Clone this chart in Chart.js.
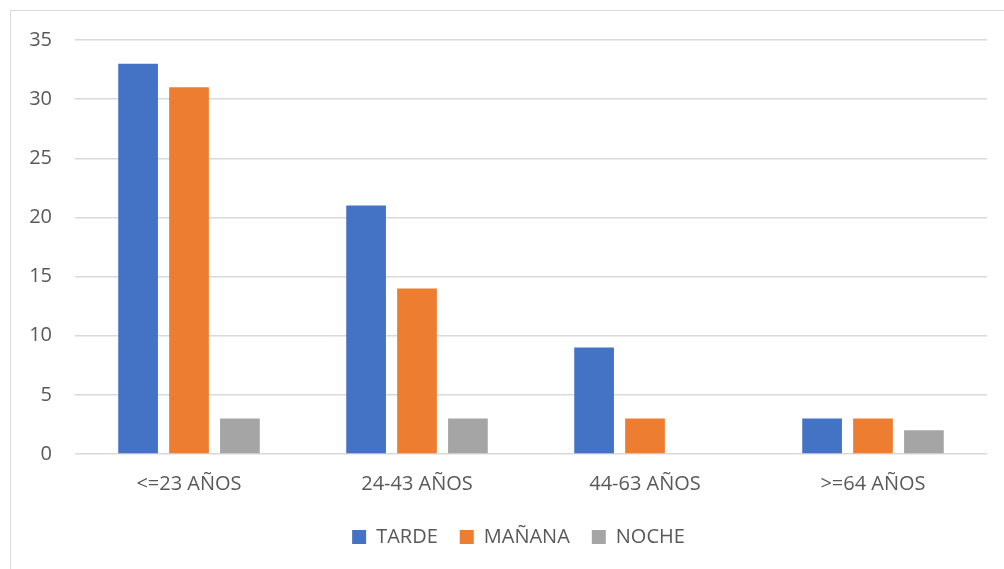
<!DOCTYPE html>
<html><head><meta charset="utf-8">
<script src="https://cdn.jsdelivr.net/npm/chart.js@4"></script>
<style>
html,body{margin:0;padding:0;background:#fff;}
#wrap{position:relative;width:1004px;height:569px;overflow:hidden;}
#frame{position:absolute;left:10px;top:10px;width:1010px;height:600px;border:1.5px solid #d9d9d9;box-sizing:border-box;}
canvas{position:absolute;left:0;top:0;}
</style></head><body>
<div id="wrap"><div id="frame"></div><canvas id="c" width="1004" height="569"></canvas></div>
<script>
const categories = ["<=23 AÑOS","24-43 AÑOS","44-63 AÑOS",">=64 AÑOS"];
const tarde = [33,21,9,3];
const manana = [31,14,3,3];
const noche = [3,3,0,2];
const seriesNames = ["TARDE","MAÑANA","NOCHE"];
const yTicks = [0,5,10,15,20,25,30,35];

const font = "'Open Sans', 'Liberation Sans', sans-serif";
const legendShift = {
  id:'legendShift',
  afterLayout(chart){ if(chart.legend){ chart.legend.left += 50; } }
};
new Chart(document.getElementById('c'), {
  type:'bar',
  data:{labels:categories,datasets:[
    {label:seriesNames[0],data:tarde,backgroundColor:'#4472C4'},
    {label:seriesNames[1],data:manana,backgroundColor:'#ED7D31'},
    {label:seriesNames[2],data:noche,backgroundColor:'#A5A5A5'}
  ]},
  plugins:[legendShift],
  options:{
    responsive:false,animation:false,
    datasets:{bar:{categoryPercentage:0.67,barPercentage:0.78}},
    layout:{padding:{top:40,right:17,left:0,bottom:12}},
    plugins:{
      tooltip:{enabled:false},
      legend:{position:'bottom',labels:{boxWidth:14,boxHeight:14,padding:22,color:'#595959',font:{family:font,size:20}}}
    },
    scales:{
      x:{grid:{display:false},border:{display:false},
         afterFit:(s)=>{s.height=51;},
         ticks:{color:'#595959',padding:10,font:{family:font,size:20}}},
      y:{min:0,max:35,afterBuildTicks:(s)=>{s.ticks=yTicks.map(v=>({value:v}));},
         afterFit:(s)=>{s.width=75;},
         grid:{color:'#d9d9d9',lineWidth:1.5,drawTicks:false},border:{display:false},
         ticks:{color:'#595959',padding:23,font:{family:font,size:20}}}
    }
  }
});
</script></body></html>
